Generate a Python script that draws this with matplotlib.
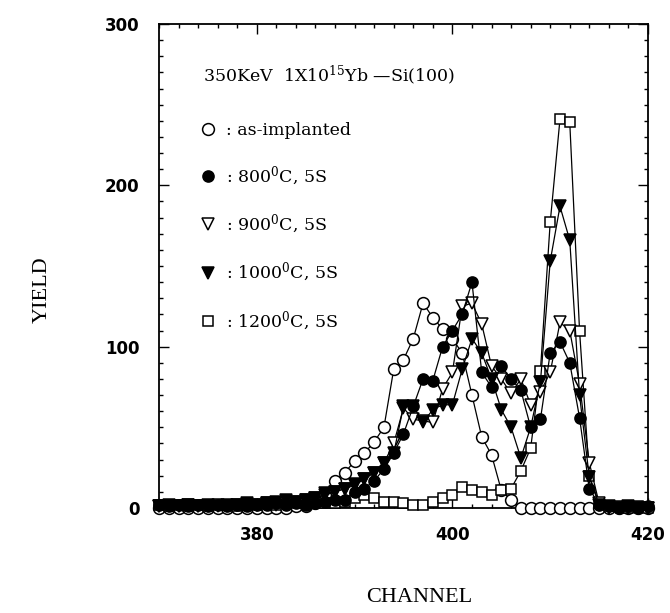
import numpy as np
import matplotlib
matplotlib.use("Agg")
import matplotlib.pyplot as plt
from matplotlib.lines import Line2D
from matplotlib.ticker import MultipleLocator

# ---------------- data ----------------
channels = np.arange(370, 421)

as_implanted = [0, 0, 0, 0, 0, 0, 0, 0, 0, 0,
                0, 0, 0, 0, 1, 1, 3, 8, 17, 22,
                29, 34, 41, 50, 86, 92, 105, 127, 118, 111,
                105, 96, 70, 44, 33, 11, 5, 0, 0, 0,
                0, 0, 0, 0, 0, 0, 0, 0, 0, 0, 0]

t800 = [2, 1, 2, 1, 2, 1, 2, 1, 2, 1,
        2, 2, 3, 2, 3, 2, 3, 4, 5, 5,
        10, 12, 17, 24, 34, 46, 63, 80, 79, 100,
        110, 120, 140, 84, 75, 88, 80, 73, 50, 55,
        96, 103, 90, 56, 12, 2, 1, 0, 1, 0, 1]

t900 = [1, 1, 1, 2, 1, 1, 2, 1, 2, 2,
        2, 3, 2, 3, 4, 5, 6, 8, 10, 12,
        14, 18, 22, 28, 40, 62, 55, 54, 53, 74,
        84, 125, 127, 114, 88, 80, 71, 80, 64, 72,
        84, 115, 110, 77, 28, 3, 0, 0, 0, 0, 0]

t1000 = [1, 2, 1, 2, 1, 2, 1, 2, 2, 3,
         2, 3, 4, 5, 4, 5, 6, 9, 10, 12,
         15, 18, 22, 28, 34, 63, 63, 53, 61, 64,
         64, 86, 105, 96, 80, 61, 50, 31, 50, 78,
         153, 187, 166, 70, 19, 2, 1, 0, 1, 0, 0]

t1200 = [2, 1, 2, 1, 2, 1, 2, 2, 1, 2,
         2, 3, 2, 3, 3, 3, 4, 3, 3, 4,
         6, 8, 6, 4, 4, 3, 2, 2, 4, 6,
         8, 13, 11, 10, 8, 11, 12, 23, 37, 85,
         177, 241, 239, 110, 20, 3, 1, 1, 0, 1, 0]

labels = [": as-implanted",
          ": 800$^{0}$C, 5S",
          ": 900$^{0}$C, 5S",
          ": 1000$^{0}$C, 5S",
          ": 1200$^{0}$C, 5S"]
header = "350KeV  1X10$^{15}$Yb \u2014Si(100)"
xticks = [380, 400, 420]
yticks = [0, 100, 200, 300]

# ---------------- style ----------------
plt.rcParams['mathtext.fontset'] = 'dejavuserif'
serif = 'DejaVu Serif'

fig = plt.figure(figsize=(6.7, 6.13), dpi=100)
ax = fig.add_axes([159/670, (613-508)/613, (648-159)/670, (508-24)/613])

series = [
    (as_implanted, dict(marker='o', ms=8.5, mfc='white', mec='black')),
    (t1200, dict(marker='s', ms=7.5, mfc='white', mec='black')),
    (t900, dict(marker='v', ms=8.5, mfc='white', mec='black')),
    (t800, dict(marker='o', ms=8, mfc='black', mec='black')),
    (t1000, dict(marker='v', ms=8.5, mfc='black', mec='black')),
]
for vals, st in series:
    ax.plot(channels, vals, color='black', lw=0.9, mew=1.1, clip_on=False,
            zorder=3, **st)

ax.set_xlim(370, 420)
ax.set_ylim(0, 300)
ax.set_xticks(xticks)
ax.set_yticks(yticks)
ax.xaxis.set_minor_locator(MultipleLocator(2))
ax.yaxis.set_minor_locator(MultipleLocator(10))
ax.tick_params(which='both', direction='in', top=True, right=True, width=1.0)
ax.tick_params(which='major', length=7)
ax.tick_params(which='minor', length=3)
ax.tick_params(axis='x', pad=13)
ax.tick_params(axis='y', pad=14)
for lab in ax.get_xticklabels() + ax.get_yticklabels():
    lab.set_fontweight('bold')
    lab.set_fontsize(12)
    lab.set_family('DejaVu Sans')
for sp in ax.spines.values():
    sp.set_linewidth(1.3)

# header text
ax.text(0.09, 0.895, header, transform=ax.transAxes, fontsize=12.5,
        family=serif, va='center', ha='left')

# legend
handles = [Line2D([], [], ls='none', color='black', mew=1.1, **st)
           for _, st in [series[0], series[3], series[2], series[4], series[1]]]
leg = ax.legend(handles, labels, loc='upper left', bbox_to_anchor=(0.065, 0.815),
                frameon=False, borderpad=0, handlelength=1.0, handletextpad=0.5,
                labelspacing=1.45, prop={'family': serif, 'size': 12.5})

fig.text(419/670, 1 - 597/613, "CHANNEL", ha='center', va='center',
         family='Liberation Serif', fontsize=16)
fig.text(42/670, 1 - 290/613, "YIELD", ha='center', va='center', rotation=90,
         family='Liberation Serif', fontsize=16)

fig.savefig("out.png", dpi=100)
